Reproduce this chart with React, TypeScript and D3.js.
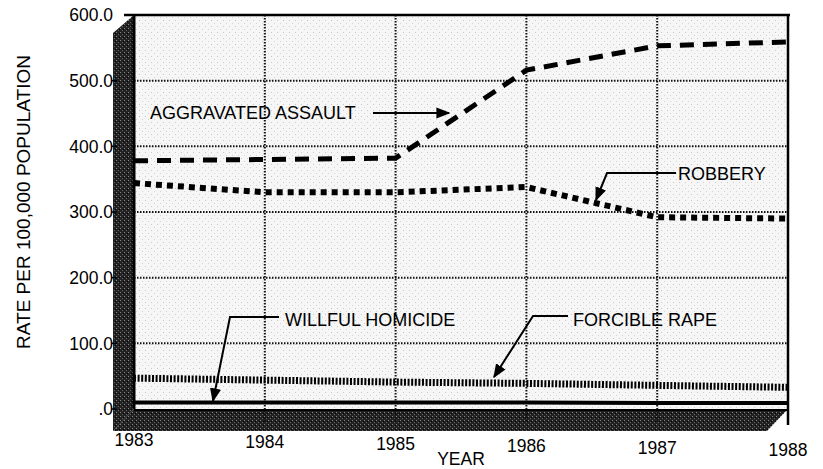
import React from "react";
import * as d3 from "d3";

const years = [1983, 1984, 1985, 1986, 1987, 1988];
const yTicks = [0, 100, 200, 300, 400, 500, 600];
const yTickLabels = [".0", "100.0", "200.0", "300.0", "400.0", "500.0", "600.0"];
const aggravatedAssault = [378, 380, 382, 516, 553, 559];
const robbery = [344, 330, 330, 338, 292, 290];
const forcibleRape = [47, 44, 41, 39, 36, 33];
const willfulHomicide = [10, 10, 10, 10, 9, 9];

const W = 823;
const H = 469;
const font = "'Liberation Sans', Arial, Helvetica, sans-serif";

export default function App() {
  const x = d3.scaleLinear().domain([1983, 1988]).range([134, 788]);
  const y = d3.scaleLinear().domain([0, 600]).range([409, 15]);
  const dx = -21;
  const dy = 22;

  const line = d3
    .line<number>()
    .x((_, i) => x(years[i]))
    .y((d) => y(d));

  const x0 = x(1983);
  const x1 = x(1988);
  const yTop = y(600);
  const yBot = y(0);

  const series = [
    { data: aggravatedAssault, w: 5, dash: "14,9" },
    { data: robbery, w: 6, dash: "6,5" },
    { data: forcibleRape, w: 7, dash: "2,1.6" },
    { data: willfulHomicide, w: 4, dash: "none" },
  ];

  return (
    <svg width={W} height={H} style={{ position: "absolute", left: 0, top: 0, background: "#fff" }}>
      <defs>
        <pattern id="dark" width="4" height="4" patternUnits="userSpaceOnUse">
          <rect width="4" height="4" fill="#222" />
          <rect x="0" y="0" width="1" height="1" fill="#888" />
          <rect x="2" y="2" width="1" height="1" fill="#666" />
          <rect x="3" y="1" width="1" height="1" fill="#000" />
        </pattern>
        <pattern id="light" width="6" height="6" patternUnits="userSpaceOnUse">
          <rect width="6" height="6" fill="#f6f6f6" />
          <rect x="1" y="2" width="1" height="1" fill="#c8c8c8" />
          <rect x="4" y="5" width="1" height="1" fill="#d4d4d4" />
        </pattern>
        <marker id="arr" viewBox="0 0 10 10" refX="9" refY="5" markerWidth="7" markerHeight="7" orient="auto">
          <path d="M0,1 L10,5 L0,9 Z" fill="#000" />
        </marker>
      </defs>

      {/* back wall */}
      <rect x={x0} y={yTop} width={x1 - x0} height={yBot - yTop} fill="url(#light)" />

      {/* left wall */}
      <polygon
        points={`${x0},${yTop} ${x0 + dx},${yTop + dy - 4} ${x0 + dx},${yBot + dy} ${x0},${yBot}`}
        fill="url(#dark)"
      />
      {/* floor */}
      <polygon
        points={`${x0},${yBot} ${x1},${yBot} ${x1 + dx},${yBot + dy} ${x0 + dx},${yBot + dy}`}
        fill="url(#dark)"
      />

      {/* gridlines */}
      {yTicks.slice(1, 6).map((t) => (
        <line key={"h" + t} x1={x0} x2={x1} y1={y(t)} y2={y(t)} stroke="#111" strokeWidth={2} strokeDasharray="1.5,1.5" />
      ))}
      {years.slice(1, 5).map((yr) => (
        <line key={"v" + yr} x1={x(yr)} x2={x(yr)} y1={yTop} y2={yBot + 14} stroke="#111" strokeWidth={2} strokeDasharray="1.5,1.5" />
      ))}

      {/* frame */}
      <line x1={x0 - 10} x2={x1 + 2} y1={yTop} y2={yTop} stroke="#000" strokeWidth={2.5} />
      <line x1={x0} x2={x0} y1={yTop} y2={yBot} stroke="#000" strokeWidth={3} />
      <line x1={x1} x2={x1} y1={yTop} y2={yBot + 16} stroke="#000" strokeWidth={2.5} />
      <line x1={x0} x2={x1} y1={yBot + 1} y2={yBot + 1} stroke="#000" strokeWidth={2} />

      {/* y tick marks */}
      {yTicks.slice(0, 6).map((t) => (
        <line key={"t" + t} x1={x0 + dx - 2} x2={x0 + dx + 4} y1={y(t)} y2={y(t)} stroke="#000" strokeWidth={1.5} />
      ))}

      {/* series */}
      {series.map((s, i) => (
        <path key={i} d={line(s.data) || ""} fill="none" stroke="#000" strokeWidth={s.w} strokeDasharray={s.dash} />
      ))}

      {/* y tick labels */}
      {yTicks.map((t, i) => (
        <text key={"yl" + t} x={113} y={y(t)} dy="0.36em" textAnchor="end" fontFamily={font} fontSize={17.5} fill="#000">
          {yTickLabels[i]}
        </text>
      ))}

      {/* x tick labels */}
      {years.map((yr, i) => (
        <text key={"xl" + yr} x={x(yr)} y={446 + i * 2} textAnchor="middle" fontFamily={font} fontSize={17.5} fill="#000">
          {yr}
        </text>
      ))}

      {/* axis titles */}
      <text x={461} y={465} textAnchor="middle" fontFamily={font} fontSize={17.5} fill="#000">
        YEAR
      </text>
      <text
        transform="translate(30,202) rotate(-90)"
        textAnchor="middle"
        fontFamily={font}
        fontSize={19}
        fill="#000"
      >
        RATE PER 100,000 POPULATION
      </text>

      {/* annotations */}
      <g fontFamily={font} fontSize={18} fill="#000">
        <text x={150} y={113} dy="0.36em">AGGRAVATED ASSAULT</text>
        <line x1={373} y1={113} x2={449} y2={113} stroke="#000" strokeWidth={2} markerEnd="url(#arr)" />

        <text x={678} y={174} dy="0.36em">ROBBERY</text>
        <polyline points="676,173 607,173 596,200" fill="none" stroke="#000" strokeWidth={2} markerEnd="url(#arr)" />

        <text x={285} y={320} dy="0.36em">WILLFUL HOMICIDE</text>
        <polyline points="279,317 230,317 213,401" fill="none" stroke="#000" strokeWidth={2} markerEnd="url(#arr)" />

        <text x={573} y={320} dy="0.36em">FORCIBLE RAPE</text>
        <polyline points="568,316 533,316 494,377" fill="none" stroke="#000" strokeWidth={2} markerEnd="url(#arr)" />
      </g>
    </svg>
  );
}
